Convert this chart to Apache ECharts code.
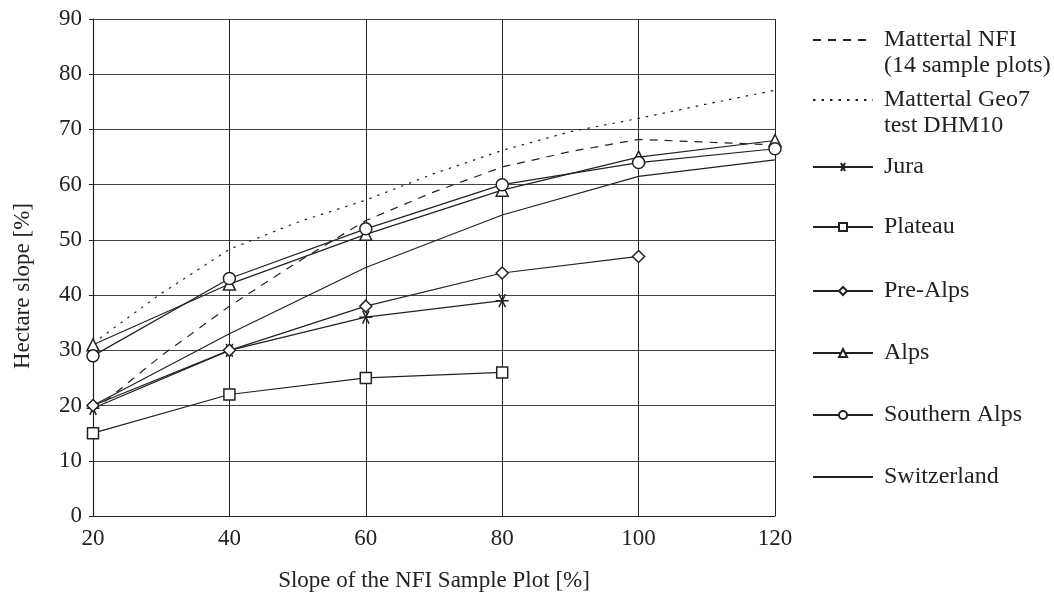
<!DOCTYPE html>
<html>
<head>
<meta charset="utf-8">
<script src="https://cdn.jsdelivr.net/npm/echarts@6/dist/echarts.min.js"></script>
<style>
  html, body { margin: 0; padding: 0; background: #fff; }
  #main { width: 1054px; height: 597px; }
</style>
</head>
<body>
<div id="main"></div>
<script>
// sample plot slope classes
const slopeX = [20, 40, 60, 80, 100, 120];
const fineX = [20, 30, 40, 50, 60, 70, 80, 90, 100, 110, 120];

// hectare slope per region
const jura = [19.5, 30, 36, 39];
const plateau = [15, 22, 25, 26];
const preAlps = [20, 30, 38, 44, 47];
const alps = [31, 42, 51, 59, 65, 68];
const southernAlps = [29, 43, 52, 60, 64, 66.5];
const switzerland = [20, 33, 45, 54.5, 61.5, 64.5];

// Mattertal lines (read every 10 %)
const mattertalNFI = [19, 29, 38, 46, 53.5, 58.7, 63.2, 66, 68.2, 67.7, 67.2];
const mattertalGeo7 = [31.3, 40.3, 48.3, 53.2, 57.2, 62, 66.2, 69.6, 72, 74.6, 77.1];

const yTicks = [0, 10, 20, 30, 40, 50, 60, 70, 80, 90];

const serif = "'Liberation Serif', 'DejaVu Serif', serif";
const ink = "#222";
const asterisk = "path://M0,5 L10,5 M2.5,0.7 L7.5,9.3 M7.5,0.7 L2.5,9.3";

function pairs(xs, ys) {
  return ys.map((v, i) => [xs[i], v]);
}

function series(name, xs, ys, symbol, lineType) {
  let fill = "#fff";
  let size = 12;
  if (symbol === asterisk) { fill = "none"; size = 13; }
  if (symbol === "rect") size = 11;
  if (!symbol) fill = "transparent";
  return {
    name: name,
    type: "line",
    data: pairs(xs, ys),
    symbol: symbol || "none",
    symbolSize: size,
    showSymbol: !!symbol,
    lineStyle: { color: ink, width: 1.2, type: lineType || "solid" },
    itemStyle: { color: fill, borderColor: symbol ? ink : "transparent", borderWidth: 1.5 },
    emphasis: { disabled: true },
    animation: false
  };
}

// name, top, two-line label (sample stays on its first line)
const legendItems = [
  ["Mattertal NFI\n(14 sample plots)", 1, true],
  ["Mattertal Geo7\ntest DHM10", 61, true],
  ["Jura", 154, false],
  ["Plateau", 214, false],
  ["Pre-Alps", 278, false],
  ["Alps", 340, false],
  ["Southern Alps", 402, false],
  ["Switzerland", 464, false]
];

let option = {
  backgroundColor: "#fff",
  textStyle: { fontFamily: serif },
  grid: {
    left: 93,
    right: 279,
    top: 19,
    bottom: 79
  },
  legend: legendItems.map(([name, top, twoLine]) => ({
    data: [name],
    left: 812,
    top: top,
    padding: 0,
    itemWidth: 60,
    itemHeight: 10,
    selectedMode: false,
    formatter: twoLine ? (n) => "\n" + n : "{name}",
    textStyle: {
      fontFamily: serif,
      fontSize: 24,
      color: ink,
      lineHeight: 26,
      padding: [0, 0, 0, 6]
    }
  })),
  xAxis: {
    type: "value",
    min: 20,
    max: 120,
    interval: 20,
    name: "Slope of the NFI Sample Plot [%]",
    nameLocation: "middle",
    nameGap: 53,
    nameTextStyle: { fontFamily: serif, fontSize: 23, color: ink },
    axisLine: { lineStyle: { color: ink, width: 1.2 } },
    axisTick: { show: false },
    axisLabel: { fontFamily: serif, fontSize: 23, color: ink, margin: 11 },
    splitLine: { lineStyle: { color: ink, width: 1 } }
  },
  yAxis: {
    type: "value",
    min: yTicks[0],
    max: yTicks[yTicks.length - 1],
    interval: 10,
    axisLine: { show: true, lineStyle: { color: ink, width: 1.2 } },
    axisTick: { show: true, length: 4, lineStyle: { color: ink } },
    axisLabel: { fontFamily: serif, fontSize: 23, color: ink, margin: 11 },
    splitLine: { lineStyle: { color: "#444", width: 1 } }
  },
  graphic: [
    {
      type: "text",
      left: 11,
      top: 203,
      rotation: Math.PI / 2,
      style: { text: "Hectare slope [%]", fontFamily: serif, fontSize: 23, fill: ink },
      silent: true
    }
  ],
  series: [
    series("Mattertal NFI\n(14 sample plots)", fineX, mattertalNFI, null, [8, 7]),
    series("Mattertal Geo7\ntest DHM10", fineX, mattertalGeo7, null, [2.5, 6]),
    series("Switzerland", slopeX, switzerland, null),
    series("Jura", slopeX, jura, asterisk),
    series("Plateau", slopeX, plateau, "rect"),
    series("Pre-Alps", slopeX, preAlps, "diamond"),
    series("Alps", slopeX, alps, "triangle"),
    series("Southern Alps", slopeX, southernAlps, "circle")
  ]
};

let myChart = echarts.init(document.getElementById("main"));
myChart.setOption(option);
</script>
</body>
</html>
